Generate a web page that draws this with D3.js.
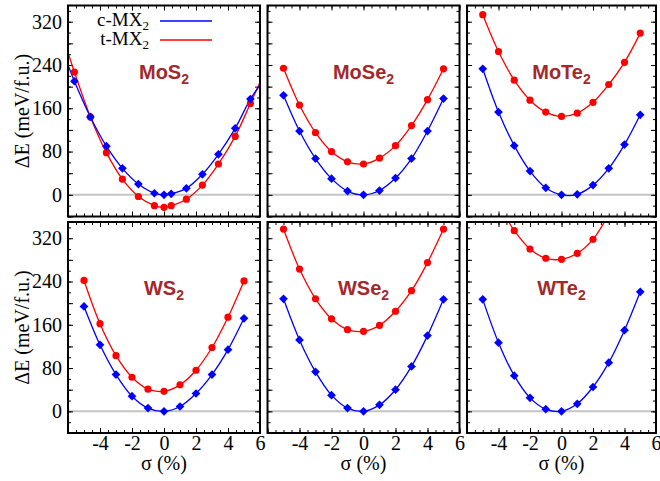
<!DOCTYPE html>
<html>
<head>
<meta charset="utf-8">
<script src="https://cdn.jsdelivr.net/npm/d3@7"></script>
<style>
  body { margin: 0; background: #fff; }
  .serif { font-family: "Liberation Serif", "Times New Roman", Times, serif; }
</style>
</head>
<body>
<div id="chart"></div>
<script>
// strain values (%) used by most panels
let strainX = [-5, -4, -3, -2, -1, 0, 1, 2, 3, 4, 5];
// MoS2 was computed on a shifted strain grid
let strainMoS2 = [-5.6, -4.6, -3.6, -2.6, -1.6, -0.6, 0, 0.45, 1.4, 2.4, 3.4, 4.45, 5.4];
// WTe2 t-phase: only these points stay inside the frame
let strainWTe2T = [-3, -2, -1, 0, 1, 2];

let panelNames = ["MoS", "MoSe", "MoTe", "WS", "WSe", "WTe"];
let seriesNames = ["c-MX", "t-MX"];

// energies (meV/f.u.)
let mos2C = [210, 144, 90, 49, 20, 3, 0, 2, 12, 38, 75, 123, 177];
let mos2T = [227, 144, 78, 29, -3, -20, -23, -20, -8, 18, 57, 108, 169];
let mose2C = [184, 118, 67, 30, 7, 0, 8, 31, 67, 118, 178];
let mose2T = [234, 166, 115, 80, 61, 57, 68, 91, 128, 176, 233];
let mote2C = [233, 153, 91, 44, 13, 0, 1, 18, 49, 93, 148];
let mote2T = [333, 265, 212, 175, 153, 145, 151, 171, 204, 245, 299];
let ws2C = [194, 123, 68, 28, 6, 0, 9, 33, 68, 114, 172];
let ws2T = [242, 162, 103, 63, 41, 37, 49, 76, 118, 174, 241];
let wse2C = [208, 132, 73, 30, 6, 0, 12, 40, 83, 140, 207];
let wse2T = [337, 263, 208, 171, 151, 148, 159, 185, 223, 275, 337];
let wte2C = [207, 127, 66, 25, 4, 0, 14, 45, 90, 150, 221];
let wte2T = [334, 300, 283, 281, 292, 318];

// where the fitted curves leave the frame (strain, energy)
let mos2CEnds = [[-6, 240], [6, 203]];
let mos2TEnds = [[-6, 263], [6, 208]];
let wte2TEnds = [[-3.35, 350], [2.72, 350]];

let yTicks = [0, 80, 160, 240, 320];
let xTicks = [-4, -2, 0, 2, 4, 6];

// layout
let colLeft = [68, 267.5, 467],
    colRight = [260, 459.5, 656],
    rowTop = [5.5, 222],
    rowBottom = [216.5, 433];

let blue = "#0000ff", red = "#ff0000";

function zip(xs, ys) { return xs.map(function(x, i) { return [x, ys[i]]; }); }

let panels = [
    { name: panelNames[0], c: zip(strainMoS2, mos2C), t: zip(strainMoS2, mos2T),
      cLine: [mos2CEnds[0]].concat(zip(strainMoS2, mos2C), [mos2CEnds[1]]),
      tLine: [mos2TEnds[0]].concat(zip(strainMoS2, mos2T), [mos2TEnds[1]]) },
    { name: panelNames[1], c: zip(strainX, mose2C), t: zip(strainX, mose2T) },
    { name: panelNames[2], c: zip(strainX, mote2C), t: zip(strainX, mote2T) },
    { name: panelNames[3], c: zip(strainX, ws2C), t: zip(strainX, ws2T) },
    { name: panelNames[4], c: zip(strainX, wse2C), t: zip(strainX, wse2T) },
    { name: panelNames[5], c: zip(strainX, wte2C), t: zip(strainWTe2T, wte2T),
      tLine: [wte2TEnds[0]].concat(zip(strainWTe2T, wte2T), [wte2TEnds[1]]) }
];

let svg = d3.select("#chart")
    .append("svg")
    .attr("width", 660)
    .attr("height", 481);

let defs = svg.append("defs");

panels.forEach(function(p, i) {
    let col = i % 3, row = Math.floor(i / 3);

    let x = d3.scaleLinear().domain([-6, 6]).range([colLeft[col], colRight[col]]);
    let y = d3.scaleLinear().domain([-40, 350]).range([rowBottom[row], rowTop[row]]);

    defs.append("clipPath").attr("id", "clip" + i)
        .append("rect")
        .attr("x", colLeft[col]).attr("y", rowTop[row])
        .attr("width", colRight[col] - colLeft[col])
        .attr("height", rowBottom[row] - rowTop[row]);

    let g = svg.append("g");

    // zero reference line
    g.append("line")
        .attr("x1", x(-6)).attr("x2", x(6))
        .attr("y1", y(0)).attr("y2", y(0))
        .attr("stroke", "#c4c4c4")
        .attr("stroke-width", 2);

    // axes, ticks pointing inwards on all four sides
    function clean(sel) {
        sel.select(".domain").remove();
        sel.attr("font-family", null).attr("font-size", 20).attr("class", "serif");
        sel.selectAll("text").attr("fill", "#000");
    }
    let yMajor = d3.range(-40, 351, 40), yMinor = d3.range(-40, 351, 20);
    let xMajor = d3.range(-6, 6.01, 2), xMinor = d3.range(-6, 6.01, 0.5);

    g.append("g").attr("transform", "translate(" + colLeft[col] + ",0)")
        .call(d3.axisLeft(y).tickValues(yMajor).tickSize(-5).tickPadding(6)
            .tickFormat(function(d) { return col === 0 && yTicks.includes(d) ? d : ""; }))
        .call(clean);
    g.append("g").attr("transform", "translate(" + colLeft[col] + ",0)")
        .call(d3.axisLeft(y).tickValues(yMinor).tickSize(-3).tickFormat(""))
        .call(clean);
    g.append("g").attr("transform", "translate(" + colRight[col] + ",0)")
        .call(d3.axisRight(y).tickValues(yMajor).tickSize(-5).tickFormat(""))
        .call(clean);
    g.append("g").attr("transform", "translate(" + colRight[col] + ",0)")
        .call(d3.axisRight(y).tickValues(yMinor).tickSize(-3).tickFormat(""))
        .call(clean);

    g.append("g").attr("transform", "translate(0," + rowBottom[row] + ")")
        .call(d3.axisBottom(x).tickValues(xMajor).tickSize(-5).tickPadding(3)
            .tickFormat(function(d) { return row === 1 && xTicks.includes(d) ? String(d) : ""; }))
        .call(clean);
    g.append("g").attr("transform", "translate(0," + rowBottom[row] + ")")
        .call(d3.axisBottom(x).tickValues(xMinor).tickSize(-3).tickFormat(""))
        .call(clean);
    g.append("g").attr("transform", "translate(0," + rowTop[row] + ")")
        .call(d3.axisTop(x).tickValues(xMajor).tickSize(-5).tickFormat(""))
        .call(clean);
    g.append("g").attr("transform", "translate(0," + rowTop[row] + ")")
        .call(d3.axisTop(x).tickValues(xMinor).tickSize(-3).tickFormat(""))
        .call(clean);

    // fitted curves
    let line = d3.line()
        .x(function(d) { return x(d[0]); })
        .y(function(d) { return y(d[1]); })
        .curve(d3.curveCatmullRom.alpha(0.5));

    g.append("path")
        .datum(p.tLine || p.t)
        .attr("clip-path", "url(#clip" + i + ")")
        .attr("fill", "none")
        .attr("stroke", red)
        .attr("stroke-width", 1.3)
        .attr("d", line);
    g.append("path")
        .datum(p.cLine || p.c)
        .attr("clip-path", "url(#clip" + i + ")")
        .attr("fill", "none")
        .attr("stroke", blue)
        .attr("stroke-width", 1.3)
        .attr("d", line);

    // markers
    g.selectAll("circle")
        .data(p.t)
        .enter()
        .append("circle")
        .attr("cx", function(d) { return x(d[0]); })
        .attr("cy", function(d) { return y(d[1]); })
        .attr("r", 3.6)
        .attr("fill", red);

    let diamond = d3.symbol().type(d3.symbolSquare).size(38);
    g.selectAll("path.dia")
        .data(p.c)
        .enter()
        .append("path")
        .attr("class", "dia")
        .attr("d", diamond)
        .attr("transform", function(d) { return "translate(" + x(d[0]) + "," + y(d[1]) + ") rotate(45)"; })
        .attr("fill", blue);

    // frame
    g.append("rect")
        .attr("x", colLeft[col]).attr("y", rowTop[row])
        .attr("width", colRight[col] - colLeft[col])
        .attr("height", rowBottom[row] - rowTop[row])
        .attr("fill", "none")
        .attr("stroke", "#000")
        .attr("stroke-width", 2);

    // compound name
    let title = g.append("text")
        .attr("x", (colLeft[col] + colRight[col]) / 2)
        .attr("y", rowTop[row] + 73)
        .attr("text-anchor", "middle")
        .attr("font-family", "'Liberation Sans', Arial, sans-serif")
        .attr("font-weight", "bold")
        .attr("font-size", 20)
        .attr("fill", "#a3282b");
    title.append("tspan").text(p.name);
    title.append("tspan").attr("font-size", 14).attr("dy", 5).text("2");

    // x axis label
    if (row === 1) {
        svg.append("text")
            .attr("class", "serif")
            .attr("x", (colLeft[col] + colRight[col]) / 2)
            .attr("y", 470)
            .attr("text-anchor", "middle")
            .attr("font-size", 20)
            .text("σ (%)");
    }
    // y axis label
    if (col === 0) {
        svg.append("text")
            .attr("class", "serif")
            .attr("transform", "translate(29," + ((rowTop[row] + rowBottom[row]) / 2) + ") rotate(-90)")
            .attr("text-anchor", "middle")
            .attr("font-size", 20)
            .text("ΔE (meV/f.u.)");
    }
});

// legend in the first panel
let legendY = [21, 40];
let legendColors = [blue, red];
seriesNames.forEach(function(name, i) {
    svg.append("line")
        .attr("x1", 160).attr("x2", 212)
        .attr("y1", legendY[i]).attr("y2", legendY[i])
        .attr("stroke", legendColors[i])
        .attr("stroke-width", 1.3);
    let t = svg.append("text")
        .attr("class", "serif")
        .attr("x", 149)
        .attr("y", legendY[i] + 5)
        .attr("text-anchor", "end")
        .attr("font-size", 19);
    t.append("tspan").text(name);
    t.append("tspan").attr("font-size", 13).attr("dy", 4).text("2");
});
</script>
</body>
</html>
